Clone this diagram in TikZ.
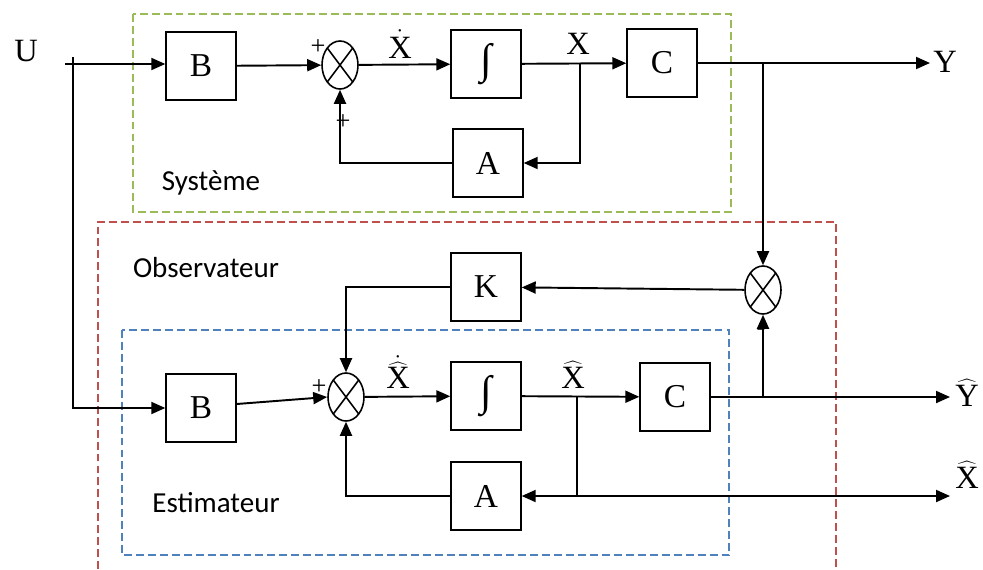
\documentclass[tikz,border=0pt]{standalone}
\usepackage{fontspec}
\setmainfont{Liberation Serif}
\newfontfamily\labelfont{Carlito}
\usetikzlibrary{positioning,calc,arrows.meta,shapes.geometric}

\definecolor{sysgreen}{RGB}{155,187,89}
\definecolor{obsred}{RGB}{192,80,77}
\definecolor{estblue}{RGB}{79,129,189}

\begin{document}
\begin{tikzpicture}[x=0.2mm,y=-0.2mm,
        block/.style={draw, rectangle, minimum width=14mm, minimum height=13.6mm, line width=0.8pt, font=\fontsize{19}{22}\selectfont},
        sum/.style={draw, ellipse, minimum width=7.2mm, minimum height=9.6mm, inner sep=0pt, line width=0.9pt,
            path picture={\draw[line width=0.9pt] (path picture bounding box.north west) -- (path picture bounding box.south east)
                (path picture bounding box.north east) -- (path picture bounding box.south west);}},
        arrow/.style={-{Triangle[length=2.8mm,width=2.4mm]}, line width=1.1pt},
        wire/.style={line width=1.1pt},
        zone/.style={line width=1pt, dash pattern=on 4.5pt off 2.3pt},
        sign/.style={font=\fontsize{15}{15}\selectfont, inner sep=0pt},
        sig/.style={font=\fontsize{18.5}{21}\selectfont},
        title/.style={font=\labelfont\fontsize{16.5}{19}\selectfont}
    ]
        \useasboundingbox (0,0) rectangle (983,569);

        % zones
        \draw[zone, sysgreen] (133,14) rectangle (731,212);
        \draw[zone, obsred] (98,569) -- (98,222) -- (836,222) -- (836,569);
        \draw[zone, estblue] (122,330) rectangle (729,555);
        \node[title] (tsys) at (211,183) {Système};
        \node[title] (tobs) at (206,268) {Observateur};
        \node[title] (test) at (216,503) {Estimateur};

        % Systeme
        \node[block] (b1) at (201,66) {B};
        \node[sum] (s1) at (340,65) {};
        \node[block, font=\fontsize{24}{26}\selectfont] (i1) at (486,64) {∫};
        \node[block] (c1) at (662,63) {C};
        \node[block] (a1) at (488,163) {A};

        % Observateur
        \node[block] (k) at (486,287) {K};
        \node[sum] (s3) at (763,290) {};

        % Estimateur
        \node[block] (b2) at (201,408) {B};
        \node[sum] (s2) at (346,397) {};
        \node[block, font=\fontsize{24}{26}\selectfont] (i2) at (486,396) {∫};
        \node[block] (c2) at (675,397) {C};
        \node[block] (a2) at (486,496) {A};

        % signals
        \node[sig] (tu) at (26,51) {U};
        \node[sig] (ty) at (945,62) {Y};
        \node[sig] (txd) at (400,44) {$\dot{\mathrm{X}}$};
        \node[sig] (tx) at (578,44) {X};
        \node[sig] (txhd) at (398,372) {$\dot{\widehat{\mathrm{X}}}$};
        \node[sig] (txh) at (573,375) {$\widehat{\mathrm{X}}$};
        \node[sig] (tyh) at (967,393) {$\widehat{\mathrm{Y}}$};
        \node[sig] (txh2) at (967,475) {$\widehat{\mathrm{X}}$};

        % signs
        \node[sign] (p1) at (318,47) {+};
        \node[sign] (p2) at (343,122) {+};
        \node[sign] (p3) at (319,387) {+};
        \node[sign] (m1) at (345,437) {-};
        \node[sign] (m2) at (761,332) {-};

        \coordinate (u) at (65,64);
        \coordinate (ju) at (73,64);
        \coordinate (jx) at (580,64);
        \coordinate (jy) at (763,63);
        \coordinate (yout) at (930,63);
        \coordinate (jyh) at (763,397);
        \coordinate (yhout) at (950,397);
        \coordinate (jxh) at (577,396);
        \coordinate (jxa) at (577,496);
        \coordinate (xhout) at (950,496);

        % top row
        \draw[arrow] (u) -- (b1.west |- u);
        \draw[wire] (73,57) -- (ju);
        \draw[arrow] (b1) -- (s1);
        \draw[arrow] (s1) -- (i1);
        \draw[arrow] (i1) -- (c1);
        \draw[arrow] (c1) -- (yout);
        \draw[arrow] (jx) |- (a1.east);
        \draw[arrow] (a1.west) -| (s1.south);

        % observer
        \draw[arrow] (jy) -- (s3.north);
        \draw[arrow] (jyh) -- (s3.south);
        \draw[arrow] (s3) -- (k);
        \draw[arrow] (k.west) -| (s2.north);

        % bottom row
        \draw[arrow] (ju) |- (b2.west);
        \draw[arrow] (b2.east) ++(0,-4) -- (s2.west);
        \draw[arrow] (s2) -- (i2);
        \draw[arrow] (i2) -- (c2);
        \draw[arrow] (c2) -- (yhout);
        \draw[wire] (jxh) -- (jxa);
        \draw[arrow] (jxa) -- (a2.east);
        \draw[arrow] (jxa) -- (xhout);
        \draw[arrow] (a2.west) -| (s2.south);
    \end{tikzpicture}
\end{document}
